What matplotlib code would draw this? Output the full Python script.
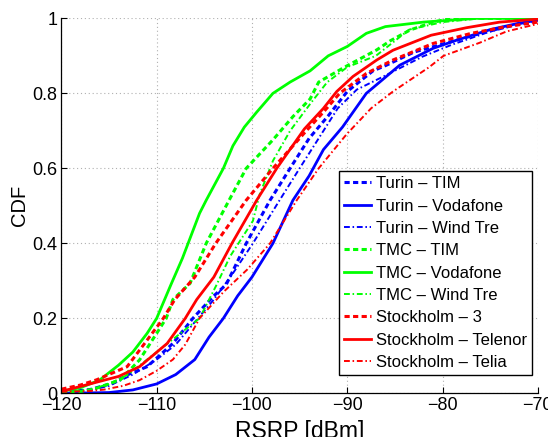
import numpy as np
import matplotlib
matplotlib.use('Agg')
from matplotlib import pyplot as plt

plt.rcParams['font.family'] = ['Liberation Sans', 'DejaVu Sans']

# RSRP [dBm] / CDF pairs
turin_tim_x = [-120, -117, -114.6, -113, -111, -108.3, -106.2, -104, -102.7, -100.6, -98.1, -96, -94, -92, -90, -87.3, -85.9, -83, -79.5, -76, -72, -70]
turin_tim_p = [0.002, 0.01, 0.027, 0.05, 0.071, 0.133, 0.2, 0.26, 0.29, 0.4, 0.515, 0.6, 0.68, 0.74, 0.805, 0.86, 0.875, 0.91, 0.935, 0.96, 0.985, 0.993]

turin_voda_x = [-120, -115, -112.5, -110, -108, -106, -104.5, -103, -101.5, -100, -97.8, -95.7, -94, -92.5, -90.5, -88, -84.5, -81, -78.5, -75, -72, -70]
turin_voda_p = [0.0, 0.002, 0.009, 0.025, 0.05, 0.09, 0.15, 0.2, 0.26, 0.31, 0.4, 0.515, 0.58, 0.65, 0.71, 0.8, 0.875, 0.92, 0.942, 0.97, 0.987, 0.995]

turin_wind_x = [-120, -117, -115, -112.5, -110, -108, -106, -104, -102, -99.9, -97.1, -95, -93, -91, -89, -86.2, -82.1, -79, -75, -72, -70]
turin_wind_p = [0.001, 0.008, 0.02, 0.05, 0.09, 0.13, 0.19, 0.25, 0.32, 0.4, 0.515, 0.6, 0.68, 0.76, 0.81, 0.845, 0.898, 0.93, 0.965, 0.985, 0.993]

tmc_tim_x = [-120, -118, -116.7, -113.8, -111.8, -110, -109, -108.3, -106.5, -104.8, -102.4, -100.6, -97.8, -95.7, -93.9, -93, -90.2, -86.9, -85.5, -83.4, -81, -79, -70]
tmc_tim_p = [0.002, 0.005, 0.01, 0.036, 0.089, 0.16, 0.2, 0.25, 0.293, 0.4, 0.515, 0.6, 0.676, 0.738, 0.785, 0.83, 0.871, 0.916, 0.94, 0.969, 0.99, 1.0, 1.0]

tmc_voda_x = [-120, -118, -116, -114, -112.5, -111, -110, -108.5, -107.3, -106.7, -105.5, -104.8, -103, -102, -100.8, -99.5, -97.8, -96, -93.9, -92, -90, -88, -86, -82, -76.4, -70]
tmc_voda_p = [0.005, 0.015, 0.035, 0.075, 0.11, 0.16, 0.2, 0.29, 0.36, 0.4, 0.48, 0.515, 0.6, 0.66, 0.71, 0.75, 0.8, 0.83, 0.86, 0.9, 0.925, 0.96, 0.978, 0.99, 1.0, 1.0]

tmc_wind_x = [-120, -117, -115, -113, -111, -109, -107, -105.5, -103.7, -102.3, -99.9, -99.2, -97.8, -96, -93.8, -92.1, -90, -87, -85, -83.5, -80, -76, -70]
tmc_wind_p = [0.003, 0.01, 0.025, 0.05, 0.09, 0.13, 0.17, 0.2, 0.29, 0.365, 0.46, 0.53, 0.62, 0.7, 0.775, 0.83, 0.87, 0.9, 0.94, 0.97, 0.99, 1.0, 1.0]

sto_3_x = [-120, -118, -116.3, -113.1, -111, -109.3, -108.1, -106, -103.8, -100.6, -97.8, -94.3, -92.5, -90.8, -88, -85.2, -81, -77, -73.3, -70]
sto_3_p = [0.011, 0.022, 0.036, 0.071, 0.142, 0.2, 0.25, 0.31, 0.4, 0.515, 0.6, 0.7, 0.75, 0.8, 0.853, 0.889, 0.933, 0.96, 0.978, 0.99]

sto_telenor_x = [-120, -119.4, -116.7, -114, -111.8, -108.9, -107, -105.8, -104, -102.1, -99.5, -97.4, -94.5, -92.5, -91.1, -89.4, -86.9, -85.2, -81.2, -77.5, -74, -70]
sto_telenor_p = [0.007, 0.009, 0.027, 0.045, 0.071, 0.133, 0.2, 0.25, 0.31, 0.4, 0.515, 0.6, 0.705, 0.76, 0.805, 0.845, 0.889, 0.915, 0.955, 0.975, 0.99, 0.998]

sto_telia_x = [-120, -117, -115.5, -113.5, -111.8, -110, -108.3, -107, -105.5, -103, -100.5, -98.1, -95.3, -93, -90.1, -87.5, -85.2, -81.4, -79.9, -76.1, -73.3, -71.2, -70]
sto_telia_p = [0.004, 0.006, 0.01, 0.02, 0.035, 0.06, 0.09, 0.13, 0.2, 0.27, 0.33, 0.4, 0.515, 0.6, 0.69, 0.76, 0.805, 0.87, 0.9, 0.935, 0.965, 0.978, 0.985]

labels = ['Turin \u2013 TIM', 'Turin \u2013 Vodafone', 'Turin \u2013 Wind Tre',
          'TMC \u2013 TIM', 'TMC \u2013 Vodafone', 'TMC \u2013 Wind Tre',
          'Stockholm \u2013 3', 'Stockholm \u2013 Telenor', 'Stockholm \u2013 Telia']
series = [(turin_tim_x, turin_tim_p), (turin_voda_x, turin_voda_p), (turin_wind_x, turin_wind_p),
          (tmc_tim_x, tmc_tim_p), (tmc_voda_x, tmc_voda_p), (tmc_wind_x, tmc_wind_p),
          (sto_3_x, sto_3_p), (sto_telenor_x, sto_telenor_p), (sto_telia_x, sto_telia_p)]
colors = ['#0000ff'] * 3 + ['#00ff00'] * 3 + ['#ff0000'] * 3
dashed = (0, (1.7, 1.1))
dashdot = (0, (3.0, 1.4, 0.8, 1.4))
styles = [dashed, '-', dashdot] * 3
widths = [2.2, 2.0, 1.4] * 3

fig = plt.figure(figsize=(5.48, 4.37), dpi=100)
ax = fig.add_axes([0.112, 0.100, 0.8695, 0.858])

for (x, p), lab, c, ls, lw in zip(series, labels, colors, styles, widths):
    ax.plot(x, p, color=c, linestyle=ls, linewidth=lw, label=lab)

ax.set_xlim(-120, -70)
ax.set_ylim(0, 1)
ax.set_xticks([-120, -110, -100, -90, -80, -70])
ax.set_xticklabels(['\u2212120', '\u2212110', '\u2212100', '\u221290', '\u221280', '\u221270'])
ax.set_yticks([0, 0.2, 0.4, 0.6, 0.8, 1])
ax.set_yticklabels(['0', '0.2', '0.4', '0.6', '0.8', '1'])
ax.tick_params(direction='in', length=4, labelsize=13, pad=3)
ax.grid(True, linestyle=(0, (1, 2.5)), color='#b0b0b0', linewidth=0.8)
ax.spines['top'].set_visible(False)
ax.spines['right'].set_visible(False)
ax.spines['left'].set_linewidth(0.9)
ax.spines['bottom'].set_linewidth(0.9)

ax.set_xlabel('RSRP [dBm]', fontsize=16.5, labelpad=4)
ax.set_ylabel('CDF', fontsize=14.5, labelpad=2)

leg = ax.legend(loc='lower right', bbox_to_anchor=(0.987, 0.049), fontsize=12,
                frameon=True, fancybox=False, edgecolor='black', framealpha=1,
                handlelength=1.6, handletextpad=0.3, labelspacing=0.44,
                borderpad=0.3, borderaxespad=0)
leg.get_frame().set_linewidth(1.0)

fig.savefig('out.png', dpi=100)
